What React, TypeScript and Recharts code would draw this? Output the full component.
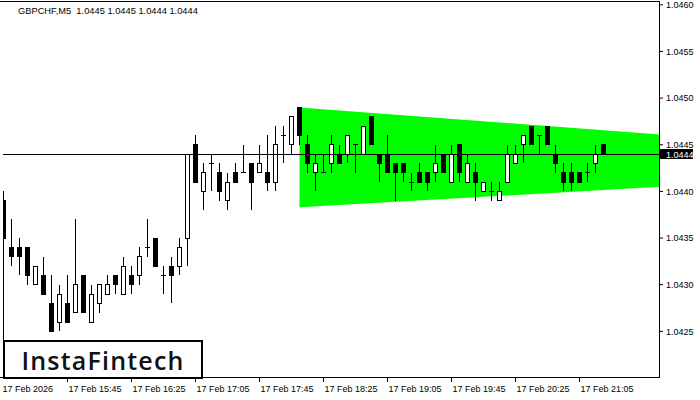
import { Area, Bar, ComposedChart, ReferenceLine, XAxis, YAxis } from "recharts";

// GBPCHF M5, one bar every 5 minutes from 17 Feb 15:05
const opens = [
  1.0439, 1.0434, 1.0434, 1.0434, 1.043, 1.0431, 1.0428, 1.0426, 1.0428, 1.0427,
  1.0431, 1.0426, 1.0428, 1.0429, 1.0431, 1.0429, 1.0431, 1.0431, 1.0434, 1.0435,
  1.0431, 1.0432, 1.0432, 1.0435, 1.0445, 1.044, 1.0443, 1.0442, 1.0439, 1.0442,
  1.0442, 1.0443, 1.0442, 1.0442, 1.0441, 1.0446, 1.0445, 1.0449, 1.0445, 1.0442,
  1.0442, 1.0443, 1.0444, 1.0444, 1.0445, 1.0444, 1.0448, 1.0444, 1.0444, 1.0443,
  1.0443, 1.0441, 1.0442, 1.0442, 1.0442, 1.0444, 1.0441, 1.0445, 1.0441, 1.0442,
  1.044, 1.044, 1.0439, 1.0441, 1.0443, 1.0445, 1.0447, 1.0446, 1.0447, 1.0444,
  1.0442, 1.0442, 1.0442, 1.0442, 1.0443, 1.0445,
];
const highs = [
  1.044, 1.0437, 1.0435, 1.0434, 1.0432, 1.0433, 1.0431, 1.043, 1.0431, 1.0437,
  1.0431, 1.043, 1.043, 1.0431, 1.0431, 1.0433, 1.0432, 1.0434, 1.0437, 1.0435,
  1.0432, 1.0433, 1.0435, 1.0444, 1.0446, 1.0443, 1.0444, 1.0443, 1.0442, 1.0443,
  1.0445, 1.0443, 1.0445, 1.0446, 1.0447, 1.0447, 1.0448, 1.0449, 1.0446, 1.0444,
  1.0444, 1.0446, 1.0445, 1.0446, 1.0445, 1.0447, 1.0448, 1.0444, 1.0446, 1.0443,
  1.0443, 1.0442, 1.0443, 1.0442, 1.0445, 1.0444, 1.0445, 1.0445, 1.0444, 1.0443,
  1.0441, 1.0441, 1.0441, 1.0445, 1.0445, 1.0446, 1.0447, 1.0446, 1.0447, 1.0445,
  1.0443, 1.0443, 1.0442, 1.0443, 1.0445, 1.0445,
];
const lows = [
  1.0423, 1.0432, 1.0431, 1.043, 1.043, 1.0429, 1.0425, 1.0425, 1.0426, 1.0427,
  1.0427, 1.0426, 1.0427, 1.0429, 1.0429, 1.0429, 1.0429, 1.043, 1.0433, 1.0432,
  1.0429, 1.0428, 1.0431, 1.0432, 1.0441, 1.0438, 1.044, 1.0439, 1.0438, 1.0441,
  1.0442, 1.0438, 1.0442, 1.044, 1.044, 1.0443, 1.0444, 1.0445, 1.0442, 1.044,
  1.0442, 1.0442, 1.0443, 1.0443, 1.0442, 1.0444, 1.0445, 1.0441, 1.0442, 1.0439,
  1.0441, 1.044, 1.0441, 1.044, 1.0441, 1.0442, 1.0441, 1.0441, 1.0441, 1.0439,
  1.044, 1.0439, 1.0439, 1.0441, 1.0443, 1.0443, 1.0445, 1.0444, 1.0445, 1.0442,
  1.044, 1.044, 1.0441, 1.0441, 1.0442, 1.0444,
];
const closes = [
  1.0435, 1.0433, 1.0433, 1.0431, 1.0432, 1.0429, 1.0425, 1.0429, 1.0426, 1.043,
  1.0427, 1.0429, 1.043, 1.043, 1.043, 1.0432, 1.043, 1.0433, 1.0434, 1.0432,
  1.0431, 1.0431, 1.0434, 1.0444, 1.0441, 1.0442, 1.0443, 1.044, 1.0441, 1.0441,
  1.0442, 1.0441, 1.0443, 1.0441, 1.0445, 1.0446, 1.0448, 1.0446, 1.0443, 1.0443,
  1.0442, 1.0445, 1.0443, 1.0446, 1.0445, 1.0447, 1.0445, 1.0443, 1.0442, 1.0442,
  1.0442, 1.0441, 1.0441, 1.0441, 1.0443, 1.0442, 1.0444, 1.0442, 1.0443, 1.0441,
  1.0441, 1.044, 1.044, 1.0444, 1.0444, 1.0446, 1.0445, 1.0446, 1.0445, 1.0443,
  1.0441, 1.0441, 1.0441, 1.0442, 1.0444, 1.0444,
];

const timeBars = [0, 8, 16, 24, 32, 40, 48, 56, 64, 72];
const timeLabels = [
  "17 Feb 2026", "17 Feb 15:45", "17 Feb 16:25", "17 Feb 17:05", "17 Feb 17:45",
  "17 Feb 18:25", "17 Feb 19:05", "17 Feb 19:45", "17 Feb 20:25", "17 Feb 21:05",
];
const priceTicks = [1.0425, 1.043, 1.0435, 1.044, 1.0445, 1.045, 1.0455, 1.046];

// bullish symmetrical triangle: start bar and the right edge of the window
const triangleBars = [37, 82.1];
const triangleTop = [1.0449, 1.04461];
const triangleBottom = [1.04383, 1.04405];

const lastPrice = 1.0444;
const title = "GBPCHF,M5  1.0445 1.0445 1.0444 1.0444";

const candles = opens.map((open, i) => ({
  i,
  open,
  high: highs[i],
  low: lows[i],
  close: closes[i],
  range: [lows[i], highs[i]],
}));
const triangle = triangleBars.map((i, n) => ({ i, band: [triangleBottom[n], triangleTop[n]] }));

const FONT = "'Liberation Sans', Arial, sans-serif";

const Candle = (props: any) => {
  const { x, y, width, height, payload } = props;
  const cx = x + width / 2;
  const top = Math.min(y, y + height);
  const h = Math.abs(height);
  const span = payload.high - payload.low;
  const py = (p: number) => top + (span ? ((payload.high - p) / span) * h : 0);
  const yo = py(payload.open);
  const yc = py(payload.close);
  const bodyH = Math.abs(yo - yc);
  const up = payload.close > payload.open;
  return (
    <g shapeRendering="crispEdges">
      <line x1={cx} x2={cx} y1={top} y2={top + h} stroke="#000" />
      {bodyH < 1 ? (
        <line x1={cx - 2.5} x2={cx + 2.5} y1={yo} y2={yo} stroke="#000" />
      ) : (
        <rect x={cx - 2} y={Math.min(yo, yc)} width={4} height={bodyH} fill={up ? "#fff" : "#000"} stroke="#000" />
      )}
    </g>
  );
};

const TimeTick = (props: any) => {
  const { x, y, payload } = props;
  const n = timeBars.indexOf(payload.value);
  const first = payload.value === timeBars[0];
  return (
    <g>
      {!first && <line x1={x} x2={x} y1={y} y2={y + 4} stroke="#000" shapeRendering="crispEdges" />}
      <text x={first ? x - 1 : x + 1} y={y + 14} fontSize={9} fontFamily={FONT} fill="#000">
        {timeLabels[n]}
      </text>
    </g>
  );
};

const PriceTag = (props: any) => {
  const vb = props.viewBox;
  const x = vb.x + vb.width;
  const y = vb.y;
  return (
    <g>
      <rect x={x} y={y - 5} width={33} height={10} fill="#000" shapeRendering="crispEdges" />
      <text x={x + 6} y={y + 3.5} fontSize={9} fontFamily={FONT} fill="#fff">
        {lastPrice.toFixed(4)}
      </text>
    </g>
  );
};

export default function App() {
  return (
    <div style={{ position: "absolute", left: 0, top: 0, width: 700, height: 400, background: "#fff" }}>
      <ComposedChart width={700} height={400} data={candles} margin={{ top: 2, right: 0, bottom: 0, left: 3 }}>
        <XAxis
          dataKey="i"
          type="number"
          domain={[-0.0625, 82.0625]}
          allowDataOverflow
          ticks={timeBars}
          interval={0}
          height={22}
          tickSize={0}
          tickMargin={0}
          axisLine={false}
          tickLine={false}
          tick={<TimeTick />}
        />
        <YAxis
          orientation="right"
          type="number"
          domain={[1.042, 1.04603]}
          allowDataOverflow
          ticks={priceTicks}
          interval={0}
          width={40}
          tickSize={3}
          tickMargin={3}
          axisLine={false}
          tickLine={{ stroke: "#000" }}
          tick={{ fontSize: 9, fontFamily: FONT, fill: "#000", textAnchor: "start" }}
          tickFormatter={(v: number) => v.toFixed(4)}
        />
        <Area
          data={triangle}
          dataKey="band"
          type="linear"
          fill="#00ff00"
          fillOpacity={1}
          stroke="none"
          isAnimationActive={false}
        />
        <Bar dataKey="range" barSize={5} shape={<Candle />} isAnimationActive={false} />
        <ReferenceLine y={lastPrice} stroke="#000" shapeRendering="crispEdges" label={<PriceTag />} />
      </ComposedChart>
      <div
        style={{
          position: "absolute",
          left: 0,
          top: 1,
          width: 660,
          height: 377,
          boxSizing: "border-box",
          borderTop: "1px solid #000",
          borderRight: "1px solid #000",
          borderBottom: "1px solid #000",
          pointerEvents: "none",
        }}
      />
      <div
        style={{
          position: "absolute",
          left: 18,
          top: 6,
          fontSize: 9.3,
          lineHeight: "10px",
          fontFamily: FONT,
          color: "#000",
          whiteSpace: "pre",
        }}
      >
        {title}
      </div>
      <div
        style={{
          position: "absolute",
          left: 3,
          top: 340,
          width: 200,
          height: 39,
          boxSizing: "border-box",
          border: "2px solid #000",
          background: "#fff",
          display: "flex",
          alignItems: "center",
          justifyContent: "center",
          fontFamily: "'Open Sans', sans-serif",
          fontWeight: 600,
          fontSize: 25,
          letterSpacing: 1.2,
          color: "#111",
        }}
      >
        InstaFintech
      </div>
    </div>
  );
}
